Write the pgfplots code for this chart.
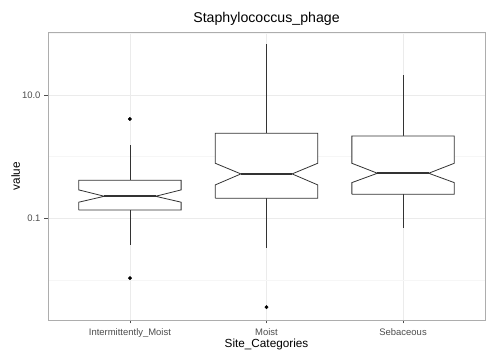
\documentclass[border=0pt]{standalone}
\usepackage{pgfplots}
\pgfplotsset{compat=1.18}
\usepackage{fontspec}
\setmainfont{Liberation Sans}
\definecolor{boxline}{HTML}{333333}
\definecolor{gridmaj}{HTML}{EBEBEB}
\definecolor{gridmin}{HTML}{F6F6F6}
\definecolor{frame}{HTML}{ADADAD}
\definecolor{ticktext}{HTML}{4D4D4D}
\begin{document}
\begin{tikzpicture}[x=1bp,y=1bp]
\path[use as bounding box] (-48bp,-37bp) rectangle (452bp,320bp);
\begin{axis}[
  at={(0,0)}, anchor=south west,
  scale only axis, width=437bp, height=288bp,
  xmin=0.4, xmax=3.6,
  ymode=log, ymin=0.00224, ymax=104.5,
  xtick={1,2,3},
  xticklabels={Intermittently\_Moist,Moist,Sebaceous},
  ytick={0.1,10}, yticklabels={0.1,10.0},
  minor ytick={0.01,1,100},
  xtick pos=bottom, ytick pos=left,
  tick align=outside,
  major tick length=3.5bp, minor tick length=0pt,
  tick style={color=ticktext, line width=0.6bp},
  xmajorgrids, ymajorgrids, yminorgrids,
  major grid style={color=gridmaj, line width=0.6bp},
  minor grid style={color=gridmin, line width=0.5bp},
  axis line style={color=frame, line width=0.6bp},
  ticklabel style={font=\fontsize{9.5}{10}\selectfont, text=ticktext},
  xticklabel style={anchor=base, inner sep=0pt, yshift=-12.3bp},
  yticklabel style={anchor=east, inner sep=0pt, xshift=-3.8bp},
  title={Staphylococcus\_phage},
  title style={at={(axis description cs:0.5,1.0128)}, anchor=base, inner sep=0pt, font=\fontsize{14.2}{15}\selectfont},
  xlabel={Site\_Categories},
  xlabel style={at={(axis description cs:0.5,-0.0945)}, anchor=base, inner sep=0pt, font=\fontsize{11.8}{12}\selectfont},
  ylabel={value},
  ylabel style={at={(axis description cs:-0.0641,0.5)}, anchor=base, inner sep=0pt, font=\fontsize{11.8}{12}\selectfont},
  clip=false,
]
% ---- Intermittently_Moist (x=1)
\addplot[boxline, line width=0.8bp] coordinates {(1,0.413) (1,1.54)};
\addplot[boxline, line width=0.8bp] coordinates {(1,0.136) (1,0.0369)};
\addplot[boxline, line width=0.8bp, fill=white] coordinates {
 (0.625,0.136) (0.625,0.182) (0.8125,0.227) (0.625,0.288) (0.625,0.413)
 (1.375,0.413) (1.375,0.288) (1.1875,0.227) (1.375,0.182) (1.375,0.136) (0.625,0.136)};
\addplot[boxline, line width=1.7bp] coordinates {(0.8125,0.227) (1.1875,0.227)};
\addplot[only marks, mark=*, mark size=1.7bp, black] coordinates {(1,4.06) (1,0.0107)};
% ---- Moist (x=2)
\addplot[boxline, line width=0.8bp] coordinates {(2,2.39) (2,66.8)};
\addplot[boxline, line width=0.8bp] coordinates {(2,0.211) (2,0.0327)};
\addplot[boxline, line width=0.8bp, fill=white] coordinates {
 (1.625,0.211) (1.625,0.347) (1.8125,0.523) (1.625,0.778) (1.625,2.39)
 (2.375,2.39) (2.375,0.778) (2.1875,0.523) (2.375,0.347) (2.375,0.211) (1.625,0.211)};
\addplot[boxline, line width=1.7bp] coordinates {(1.8125,0.523) (2.1875,0.523)};
\addplot[only marks, mark=*, mark size=1.7bp, black] coordinates {(2,0.00361)};
% ---- Sebaceous (x=3)
\addplot[boxline, line width=0.8bp] coordinates {(3,2.16) (3,21.0)};
\addplot[boxline, line width=0.8bp] coordinates {(3,0.245) (3,0.0705)};
\addplot[boxline, line width=0.8bp, fill=white] coordinates {
 (2.625,0.245) (2.625,0.378) (2.8125,0.536) (2.625,0.778) (2.625,2.16)
 (3.375,2.16) (3.375,0.778) (3.1875,0.536) (3.375,0.378) (3.375,0.245) (2.625,0.245)};
\addplot[boxline, line width=1.7bp] coordinates {(2.8125,0.536) (3.1875,0.536)};
\end{axis}
\end{tikzpicture}
\end{document}
